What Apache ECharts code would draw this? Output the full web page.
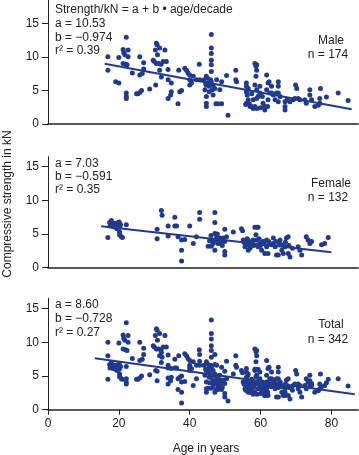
<!DOCTYPE html>
<html><head><meta charset="utf-8">
<script src="https://cdn.jsdelivr.net/npm/echarts@6/dist/echarts.min.js"></script>
<style>html,body{margin:0;padding:0;background:#fff}#c{width:359px;height:455px}</style>
</head><body><div id="c"></div>
<script>
// ---- data ----
const maleAge = [16.9,16.9,19.1,20.0,20.0,21.2,21.4,22.1,21.7,22.6,22.6,21.2,21.9,22.3,22.1,22.1,22.1,23.8,25.0,25.4,25.9,26.4,25.9,25.9,26.6,27.0,27.0,28.7,29.7,30.0,30.3,30.6,30.8,30.9,30.6,30.4,31.2,31.5,31.9,31.5,32.0,32.5,33.0,33.4,33.9,33.9,33.9,34.6,34.8,34.8,36.7,37.2,36.9,37.7,38.6,39.1,39.5,40.0,40.0,40.5,40.0,41.0,41.9,42.7,42.8,44.0,44.3,44.7,44.7,44.7,44.7,44.7,45.2,45.5,45.9,46.1,46.1,46.1,46.1,46.1,46.1,46.1,46.4,46.6,47.1,46.6,47.4,48.0,49.0,48.5,49.0,47.6,50.4,50.8,53.0,53.0,53.2,56.0,56.0,56.5,56.0,56.2,56.5,56.0,56.8,57.0,57.4,57.9,58.4,58.7,58.9,58.9,58.7,58.4,58.9,59.3,58.9,57.9,58.4,59.0,59.8,59.8,60.5,60.7,61.2,61.2,61.7,61.7,62.1,62.1,62.4,62.6,63.1,63.1,63.6,64.1,64.5,65.0,65.0,65.0,65.0,66.9,66.9,66.9,68.3,69.2,69.9,70.2,69.7,70.6,71.1,72.5,73.9,73.9,74.4,72.9,75.3,76.3,76.7,76.9,76.7,78.6,81.9,84.7,44.5,45.0,45.5,56.3,57.5,55.8,60.0,62.0,65.5,67.5];
const maleKN  = [10.0,8.0,6.3,6.1,9.9,11.1,10.6,12.9,10.3,11.0,10.0,9.0,8.9,8.8,4.6,4.1,3.8,7.6,4.5,4.5,4.7,5.0,10.0,7.3,7.5,9.1,8.2,5.2,9.5,9.3,11.0,12.0,11.8,10.3,9.0,5.8,9.0,8.0,8.9,11.3,7.0,9.3,11.0,9.3,8.1,6.6,3.8,4.3,4.8,6.1,3.0,4.8,8.0,5.0,8.3,8.0,7.6,7.3,6.6,6.1,5.8,7.1,6.6,8.9,6.6,6.6,5.1,7.1,5.8,4.1,3.1,2.6,6.1,5.6,6.6,13.3,11.3,10.5,9.5,8.8,7.8,6.3,5.1,5.8,5.3,4.3,3.0,3.0,3.0,5.1,6.3,6.6,7.2,1.3,8.0,6.6,6.3,6.1,5.6,5.3,4.8,4.3,3.6,3.1,3.0,2.6,2.6,2.3,9.0,8.6,8.8,8.0,7.1,5.8,5.1,4.1,3.8,3.6,2.6,2.3,5.6,4.6,4.1,3.1,2.6,2.1,7.3,5.1,6.1,3.6,6.3,4.6,5.6,4.6,4.3,3.6,4.6,6.3,5.6,4.6,3.3,3.3,2.6,2.1,3.3,3.6,5.8,5.3,3.8,3.8,3.6,3.6,5.1,4.3,3.6,3.1,2.6,2.8,3.8,5.3,3.1,4.0,4.6,3.5,6.0,6.8,4.8,5.0,4.5,2.9,2.4,2.6,4.1,3.6];
const femaleAge = [16.9,17.4,17.9,18.2,18.4,18.9,19.3,19.8,20.1,20.1,20.2,20.7,21.0,22.1,20.2,30.8,30.8,32.0,32.2,33.9,33.9,35.8,35.8,36.3,36.7,37.7,37.7,37.7,38.6,40.0,41.0,41.9,42.8,42.8,45.2,46.1,47.1,47.1,46.6,46.6,47.1,47.1,47.6,47.6,48.0,48.5,48.5,49.4,49.9,49.9,49.9,50.4,49.9,52.3,54.6,54.9,55.1,55.6,56.0,56.5,56.5,57.0,57.4,57.9,58.4,58.9,59.3,58.7,58.9,59.3,59.8,60.3,60.7,61.2,61.7,61.7,62.1,62.6,63.6,63.6,64.1,64.5,65.0,65.5,65.9,66.4,66.9,67.3,67.8,67.8,68.3,70.6,71.1,71.6,72.9,73.4,73.9,74.4,77.2,78.1,79.1,18.0,19.0,19.5,20.5,17.5,45.6,46.0,46.8,47.3,47.8,48.2,48.8,49.2,55.3,55.8,56.2,56.8,57.2,57.6,58.1,59.6,60.0,61.0,62.3,63.0,64.3,65.2,66.0,67.0,68.0,69.0];
const femaleKN  = [4.5,6.7,7.0,6.3,6.1,6.6,6.3,6.7,6.8,6.0,5.3,4.6,4.5,6.4,4.9,5.7,4.3,8.5,7.8,6.2,4.7,7.5,6.2,6.2,4.6,4.1,2.6,1.0,4.2,6.2,3.6,4.6,8.2,7.2,3.2,3.2,8.2,6.7,4.1,3.6,5.1,2.6,4.6,4.1,3.6,4.4,3.6,4.4,5.7,3.9,2.4,4.6,1.9,5.3,5.8,5.5,4.1,3.1,3.6,2.6,4.1,2.9,3.6,4.1,6.0,6.0,6.0,4.9,4.1,3.1,3.6,2.6,3.9,2.1,3.1,4.1,2.1,3.6,4.4,3.6,3.1,1.9,1.9,4.1,3.4,2.1,3.1,4.4,4.6,2.1,1.6,3.1,2.6,1.9,4.6,4.1,3.6,3.9,3.4,3.6,4.5,6.5,6.0,5.8,6.4,6.2,4.0,4.8,3.9,4.0,5.0,4.2,3.8,3.3,3.8,3.3,4.3,3.4,3.2,3.8,3.3,4.3,3.3,3.6,3.9,3.4,3.9,3.6,2.6,3.8,3.3,2.9];
// regression coefficients (Strength/kN = a + b * age/decade) and fitted age range
const panelNames = ['Male','Female','Total'];
const coefA = [10.53, 7.03, 8.60];
const coefB = [-0.974, -0.591, -0.728];
const rSquared = ['0.39','0.35','0.27'];
const nLabels = ['174','132','342'];
const fitStart = [16, 15, 13.2];
const fitEnd = [85.7, 80, 86.6];
const xTicks = [0,20,40,60,80];
const yTicks = [0,5,10,15];

// ---- build ----
const maleData = maleAge.map((x,i)=>[x, maleKN[i]]);
const femaleData = femaleAge.map((x,i)=>[x, femaleKN[i]]);
const totalData = maleData.concat(femaleData);
const panels = [maleData, femaleData, totalData];

const col = '#213a8c';
const font = '"Liberation Sans", Arial, Helvetica, sans-serif';
const gridDefs = [
  {top: 0, height: 124, ymax: 124/6.72},
  {top: 156.7, height: 111, ymax: 111/6.73},
  {top: 298.3, height: 111.4, ymax: 111.4/6.74}
];
const grids = [], xAxes = [], yAxes = [], series = [];
gridDefs.forEach((g,i)=>{
  grids.push({left: 48, width: 310, top: g.top, height: g.height});
  const last = i === 2;
  xAxes.push({type:'value', gridIndex:i, min:0, max:87.5, interval:20,
    splitLine:{show:false},
    axisLine:{show:true, onZero:false, lineStyle:{color:'#222', width:1.6}},
    axisTick:{show:last, customValues:xTicks, length:5, inside:false, lineStyle:{color:'#222', width:1}},
    axisLabel:{show:last, customValues:xTicks, color:'#222', fontSize:12, fontFamily:font, margin:8}
  });
  yAxes.push({type:'value', gridIndex:i, min:0, max:g.ymax, interval:5,
    splitLine:{show:false},
    axisLine:{show:true, lineStyle:{color:'#222', width:1}},
    axisTick:{show:true, customValues:yTicks, length:6, lineStyle:{color:'#222', width:1}},
    axisLabel:{customValues:yTicks, color:'#222', fontSize:12, fontFamily:font, margin:9}
  });
  series.push({type:'scatter', xAxisIndex:i, yAxisIndex:i, data:panels[i], symbolSize:5,
    itemStyle:{color:col, opacity:1}, silent:true, z:2});
  const fit = [fitStart[i], fitEnd[i]].map(x=>[x, coefA[i] + coefB[i]*x/10]);
  series.push({type:'line', xAxisIndex:i, yAxisIndex:i, data:fit, symbol:'none',
    lineStyle:{color:col, width:2}, silent:true, z:3});
});

const txt = (s, x, y, align) => ({type:'text', x:x, y:y, silent:true,
  style:{text:s, fill:'#222', font:'12px ' + font, textAlign:align||'left', textVerticalAlign:'middle'}});
const fmt = v => (v<0 ? '\u2212' : '') + Math.abs(v).toFixed(v===coefA[0]||v===coefA[1]||v===coefA[2] ? 2 : 3);
const annY = [[24,37.3,50.5],[164,177,190],[305,319,332.5]];
const nameY = [[40.7,55],[184,197.5],[325,339.3]];
const graphics = [txt('Strength/kN = a + b \u2022 age/decade', 55, 10)];
for (let i=0;i<3;i++){
  graphics.push(txt('a = ' + coefA[i].toFixed(2), 55, annY[i][0]));
  graphics.push(txt('b = \u2212' + Math.abs(coefB[i]).toFixed(3), 55, annY[i][1]));
  graphics.push(txt('r\u00b2 = ' + rSquared[i], 55, annY[i][2]));
  graphics.push(txt(panelNames[i], 331, nameY[i][0], 'center'));
  graphics.push(txt('n = ' + nLabels[i], 328, nameY[i][1], 'center'));
}
graphics.push(txt('Age in years', 206, 448.5, 'center'));
graphics.push({type:'text', x:8, y:204, rotation:Math.PI/2, silent:true,
  style:{text:'Compressive strength in kN', fill:'#222', font:'12px ' + font, textAlign:'center', textVerticalAlign:'middle'}});

const chart = echarts.init(document.getElementById('c'), null, {renderer:'canvas'});
chart.setOption({animation:false, backgroundColor:'#fff', grid:grids, xAxis:xAxes, yAxis:yAxes, series:series, graphic:graphics});
</script></body></html>
